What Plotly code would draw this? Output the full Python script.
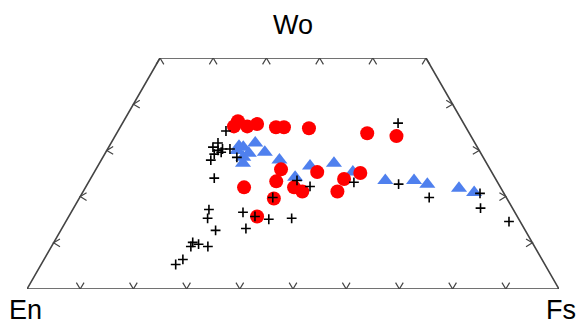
import math
import plotly.graph_objects as go

# ---- data (Wo, Fs in mol %, En = 100 - Wo - Fs) ----
red_wo = [35.2, 36.3, 35.2, 35.7, 35.0, 35.0, 34.8, 33.7, 33.1, 25.9,
          25.3, 23.8, 25.1, 23.3, 22.0, 22.0, 21.1, 21.1, 19.6, 15.7]
red_fs = [21.3, 21.5, 23.8, 25.4, 29.3, 30.8, 35.6, 47.1, 52.9, 34.8,
          41.9, 47.7, 50.1, 35.2, 29.8, 39.2, 41.2, 47.8, 36.6, 35.4]

blue_wo = [30.9, 30.7, 31.6, 29.4, 30.0, 27.2, 29.6, 27.9, 24.2, 26.6,
           27.2, 25.3, 23.5, 23.5, 22.7, 21.8, 20.9, 28.5]
blue_fs = [24.4, 25.3, 27.1, 27.0, 24.5, 27.0, 29.9, 33.5, 38.3, 39.9,
           44.1, 48.6, 55.6, 61.0, 63.9, 70.3, 73.6, 26.4]

blk_wo = [35.9, 34.2, 31.6, 30.7, 29.6, 30.3, 30.3, 29.2, 27.9, 24.0,
          28.5, 23.5, 22.2, 23.1, 22.7, 19.8, 20.7, 17.5, 14.6, 19.8,
          17.2, 15.3, 16.6, 15.7, 15.1, 15.3, 12.7, 13.1, 10.1, 9.2,
          9.7, 9.2, 6.4, 5.3, 30.0]
blk_fs = [51.8, 20.3, 20.1, 19.6, 21.7, 21.6, 23.0, 20.6, 20.6, 23.2,
          25.2, 39.0, 42.1, 49.9, 58.5, 65.7, 74.8, 76.5, 83.3, 36.3,
          25.6, 26.3, 32.3, 35.0, 37.9, 42.1, 29.1, 34.6, 26.1, 26.2,
          27.4, 29.4, 26.1, 25.3, 20.9]

bottom_ticks = [10, 20, 30, 40, 50, 60, 70, 80, 90]   # Fs on En-Fs edge
top_ticks = [0, 10, 20, 30, 40, 50]                    # Fs on Wo=50 edge
side_ticks = [10, 20, 30, 40]                          # Wo on both sides

S3 = math.sqrt(3) / 2


def to_xy(wo, fs):
    en = [100 - w - f for w, f in zip(wo, fs)]
    tot = [w + f + e for w, f, e in zip(wo, fs, en)]
    x = [100 * (f + w / 2) / t for w, f, t in zip(wo, fs, tot)]
    y = [100 * w * S3 / t for w, t in zip(wo, tot)]
    return x, y


fig = go.Figure()

# frame (quadrilateral)
fx, fy = to_xy([0, 0, 50, 50, 0], [0, 100, 50, 0, 0])
fig.add_trace(go.Scatter(x=fx, y=fy, mode="lines",
                         line=dict(color="#444444", width=1.6),
                         hoverinfo="skip", showlegend=False))

# chevron ticks
a, b = 0.72, 1.2
cx, cy = [], []


def chev(x0, y0, dx1, dy1, dx2, dy2):
    cx.extend([x0 + dx1, x0, x0 + dx2, None])
    cy.extend([y0 + dy1, y0, y0 + dy2, None])


bx, by = to_xy([0] * len(bottom_ticks), bottom_ticks)
for x0, y0 in zip(bx, by):
    chev(x0, y0, -a, b, a, b)
tx, ty = to_xy([50] * len(top_ticks), top_ticks)
for x0, y0 in zip(tx, ty):
    chev(x0, y0, -a, -b, a, -b)
lx, ly = to_xy(side_ticks, [0] * len(side_ticks))
for x0, y0 in zip(lx, ly):
    chev(x0, y0, b, a, b, -a)
rx, ry = to_xy(side_ticks, [100 - w for w in side_ticks])
for x0, y0 in zip(rx, ry):
    chev(x0, y0, -b, a, -b, -a)
fig.add_trace(go.Scatter(x=cx, y=cy, mode="lines",
                         line=dict(color="#444444", width=1.2),
                         hoverinfo="skip", showlegend=False))

# data series
x, y = to_xy(blue_wo, blue_fs)
fig.add_trace(go.Scatter(x=x, y=y, mode="markers", showlegend=False,
                         marker=dict(symbol="triangle-up", size=14,
                                     color="#4f80ee", line=dict(width=0)),
                         cliponaxis=False))
x, y = to_xy(red_wo, red_fs)
fig.add_trace(go.Scatter(x=x, y=y, mode="markers", showlegend=False,
                         marker=dict(symbol="circle", size=14,
                                     color="#ff0000", line=dict(width=0)),
                         cliponaxis=False))
x, y = to_xy(blk_wo, blk_fs)
fig.add_trace(go.Scatter(x=x, y=y, mode="markers", showlegend=False,
                         marker=dict(symbol="cross-thin", size=7,
                                     color="black",
                                     line=dict(width=1.6, color="black")),
                         cliponaxis=False))

font = dict(family="Liberation Sans, Arial, sans-serif", size=27,
            color="black")
fig.add_annotation(text="Wo", x=0.5, y=1.141, xref="paper", yref="paper",
                   xanchor="center", yanchor="middle", showarrow=False,
                   font=font)
fig.add_annotation(text="En", x=-0.002, y=-0.092, xref="paper", yref="paper",
                   xanchor="center", yanchor="middle", showarrow=False,
                   font=font)
fig.add_annotation(text="Fs", x=1.035, y=-0.092, xref="paper", yref="paper",
                   xanchor="right", yanchor="middle", showarrow=False,
                   font=font)

fig.update_xaxes(visible=False, range=[0, 100], fixedrange=True)
fig.update_yaxes(visible=False, range=[0, 50 * S3], fixedrange=True)
fig.update_layout(width=580, height=324,
                  margin=dict(l=27, r=21, t=58, b=35, pad=0),
                  paper_bgcolor="white", plot_bgcolor="white",
                  showlegend=False)

fig.write_html("out.html")
